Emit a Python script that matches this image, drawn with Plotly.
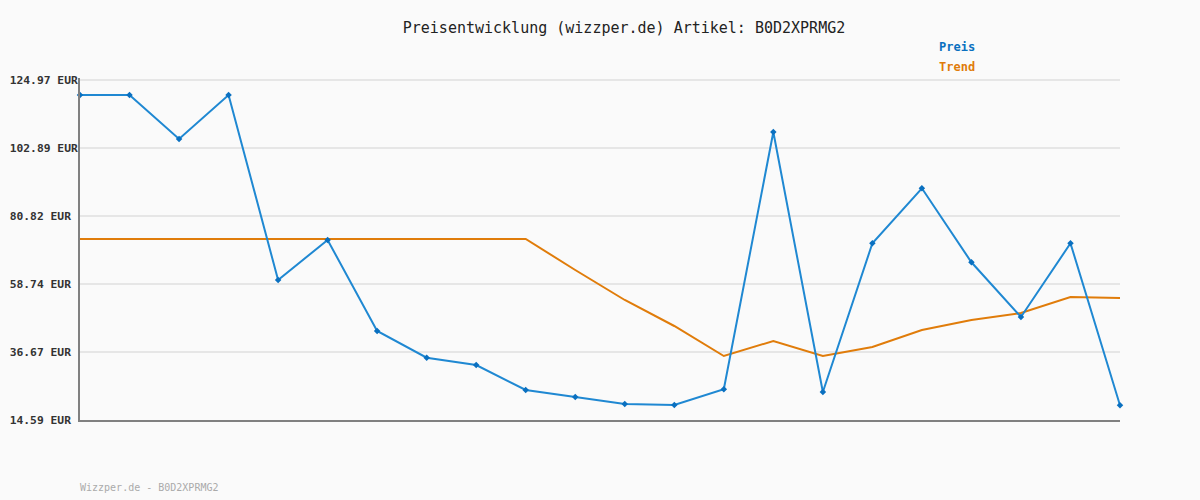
import plotly.graph_objects as go

# Data
x_idx = list(range(22))
preis = [120.11, 120.11, 105.83, 120.11, 60.05, 73.03, 43.49, 34.8, 32.45, 24.33, 22.06,
         19.79, 19.46, 24.56, 108.1, 23.68, 71.96, 89.82, 65.79, 48.03, 71.96, 19.36]
trend = [73.36, 73.36, 73.36, 73.36, 73.36, 73.36, 73.36, 73.36, 73.36, 73.36, 63.29,
         53.55, 45.11, 35.37, 40.24, 35.37, 38.29, 43.81, 47.06, 49.33, 54.53, 54.20]
tick_vals = [14.59, 36.67, 58.74, 80.82, 102.89, 124.97]
tick_text = ["14.59 EUR", "36.67 EUR", "58.74 EUR", "80.82 EUR", "102.89 EUR", "124.97 EUR"]

BLUE = "#1f88d2"
BLUE_DARK = "#0a70c0"
ORANGE = "#e07c0a"
MONO = "DejaVu Sans Mono"

fig = go.Figure()
fig.add_trace(go.Scatter(x=x_idx, y=trend, mode="lines", name="Trend",
                         line=dict(color=ORANGE, width=2), cliponaxis=False))
fig.add_trace(go.Scatter(x=x_idx, y=preis, mode="lines+markers", name="Preis",
                         line=dict(color=BLUE, width=2),
                         marker=dict(symbol="diamond", size=5, color=BLUE_DARK),
                         cliponaxis=False))

# top of range a little above the highest tick so its gridline is still drawn
y_top = 124.97 + 2 * (124.97 - 14.59) / 340

fig.update_layout(
    width=1200, height=500,
    margin=dict(l=80, r=80, t=78, b=80, autoexpand=False),
    paper_bgcolor="#fafafa", plot_bgcolor="#fafafa",
    showlegend=False,
    title=dict(text="Preisentwicklung (wizzper.de) Artikel: B0D2XPRMG2",
               x=0.52, xanchor="center", y=0.944, yanchor="middle",
               font=dict(family=MONO, size=15, color="#222222")),
    xaxis=dict(range=[0, 21], showticklabels=False, showgrid=False, zeroline=False,
               showline=True, linecolor="#808080", linewidth=2, ticks="",
               automargin=False),
    yaxis=dict(range=[14.59, y_top], tickvals=tick_vals,
               ticktext=[t.ljust(10, "\u00a0") for t in tick_text],
               showgrid=True, gridcolor="#e6e6e6", gridwidth=2, zeroline=False,
               showline=True, linecolor="#808080", linewidth=2, ticks="",
               ticklabelstandoff=-2, automargin=False,
               tickfont=dict(family=MONO, size=11.3, color="#333333", weight="bold")),
)

plot_w, plot_h = 1040, 342
for label, col, py in [("Preis", BLUE_DARK, 47), ("Trend", ORANGE, 67)]:
    fig.add_annotation(text="<b>" + label + "</b>", xref="paper", yref="paper",
                       x=(937 - 80) / plot_w, y=(420 - py) / plot_h,
                       xanchor="left", yanchor="middle", showarrow=False,
                       font=dict(family=MONO, size=12, color=col))

fig.add_annotation(text="Wizzper.de - B0D2XPRMG2", xref="paper", yref="paper",
                   x=-2 / plot_w, y=(420 - 487) / plot_h, xanchor="left", yanchor="middle",
                   showarrow=False, font=dict(family=MONO, size=10, color="#aaaaaa"))

fig.write_html("out.html", config={"displayModeBar": False},
               post_script="document.body.style.margin='0';document.body.style.background='#fafafa';")
